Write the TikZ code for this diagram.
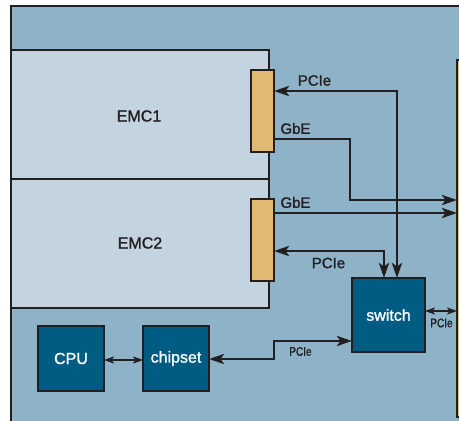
\documentclass[tikz,border=0pt]{standalone}
\usepackage{fontspec}
\setmainfont[FakeBold=1.3]{Liberation Sans}
\usetikzlibrary{arrows.meta}
\definecolor{boardc}{RGB}{142,179,200}
\definecolor{emcc}{RGB}{196,211,224}
\definecolor{tanc}{RGB}{224,185,115}
\definecolor{chipc}{RGB}{0,92,130}
\definecolor{linec}{RGB}{35,31,32}
\begin{document}
\begin{tikzpicture}[x=1pt,y=-1pt,
  emcbox/.style={draw=linec,fill=emcc,line width=1.8pt,inner sep=0pt,outer sep=0pt},
  conbox/.style={draw=linec,fill=tanc,line width=1.6pt,inner sep=0pt,outer sep=0pt,minimum width=23pt,minimum height=82pt},
  chipbox/.style={draw=linec,fill=chipc,line width=1.6pt,inner sep=0pt,outer sep=0pt,text=white,font=\fontsize{16}{18}\selectfont},
  lbl/.style={inner sep=0pt,text=linec,font=\fontsize{15}{17}\selectfont},
  slbl/.style={inner sep=0pt,text=linec,font=\fontsize{12.5}{14}\selectfont},
  tip/.tip={Stealth[length=15pt,width=10pt,inset=3.5pt]},
  stip/.tip={Stealth[length=10pt,width=7pt,inset=2.5pt]},
  arr/.style={draw=linec,line width=2.8pt,-tip},
  dbl/.style={draw=linec,line width=2.8pt,tip-tip},
  sdbl/.style={draw=linec,line width=2.2pt,stip-stip}
]
\useasboundingbox (0,0) rectangle (459,421);
\clip (0,0) rectangle (459,421);
% board
\fill[boardc] (11,6) rectangle (480,440);
\draw[linec,line width=1.8pt] (11,440) -- (11,6) -- (480,6);
% backplane
\node[draw=linec,fill=tanc,line width=1.6pt,inner sep=0pt,outer sep=0pt,minimum width=30pt,minimum height=357pt] (bp) at (472,238.5) {};
% EMC boards
\node[emcbox,minimum width=258pt,minimum height=129pt] (emc1) at (140,114.5) {};
\node[emcbox,minimum width=258pt,minimum height=129pt] (emc2) at (140,243.5) {};
\node[lbl,font=\fontsize{16}{18}\selectfont] (t1) at (139,116) {EMC1};
\node[lbl,font=\fontsize{16}{18}\selectfont] (t2) at (140,243) {EMC2};
% connectors
\node[conbox] (c1) at (262.5,111) {};
\node[conbox] (c2) at (262.5,240) {};
% chips
\node[chipbox,minimum width=73pt,minimum height=74pt] (sw) at (388.5,315) {switch};
\node[chipbox,minimum width=66pt,minimum height=65pt] (cpu) at (71,358.5) {CPU};
\node[chipbox,minimum width=66pt,minimum height=65pt] (chip) at (176,358.5) {chipset};
% routing points
\coordinate (p1) at (397,91);
\coordinate (g1a) at (350,139);
\coordinate (g1b) at (350,200);
\coordinate (g2) at (300,213);
\coordinate (p2) at (384,251);
\coordinate (p3) at (440,311);
\coordinate (k1) at (274,341);
\coordinate (k2) at (274,359);
\coordinate (k3) at (120,360);
% connections
\draw[dbl] (c1.east |- p1) -- (p1) -- (p1 |- sw.north);
\draw[arr] (c1.east |- g1a) -- (g1a) -- (g1b) -- (bp.west |- g1b);
\draw[arr] (c2.east |- g2) -- (bp.west |- g2);
\draw[dbl] (c2.east |- p2) -- (p2) -- (p2 |- sw.north);
\draw[sdbl] (sw.east |- p3) -- (bp.west |- p3);
\draw[dbl] (chip.east |- k2) -- (k2) -- (k1) -- (sw.west |- k1);
\draw[sdbl] (cpu.east |- k3) -- (chip.west |- k3);
% labels
\node[lbl] (l1) at (314.5,80.5) {PCIe};
\node[lbl] (l2) at (295.5,128.5) {GbE};
\node[lbl] (l3) at (295.5,202.5) {GbE};
\node[lbl] (l4) at (328.5,263) {PCIe};
\node[slbl] (l5) at (441.5,323) {\scalebox{0.8}[1]{PCIe}};
\node[slbl] (l6) at (300.5,351.5) {\scalebox{0.8}[1]{PCIe}};
\end{tikzpicture}
\end{document}
